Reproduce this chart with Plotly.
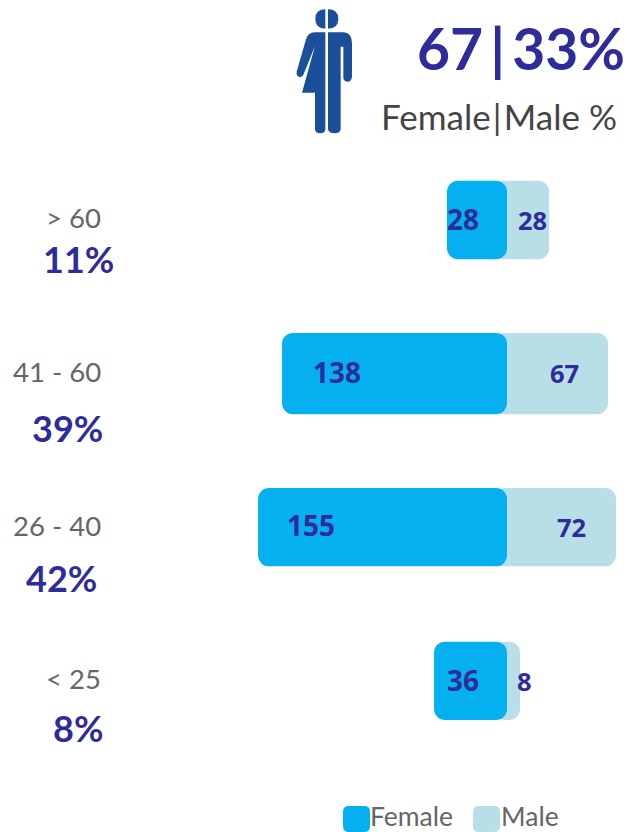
import plotly.graph_objects as go

# Data
categories = ["> 60", "41 - 60", "26 - 40", "< 25"]
share_labels = ["11%", "39%", "42%", "8%"]
female_labels = [28, 138, 155, 36]
male_labels = [28, 67, 72, 8]
# Drawn bar lengths (they do not scale strictly with the labels)
female_length = [37.5, 140.6, 155.6, 45.6]
male_length = [26.3, 63.1, 68.1, 8.1]
bar_thickness = [0.51, 0.53, 0.51, 0.51]
headline = "67\u2009|\u200933%"
subhead = "Female\u200a|\u200aMale %"
series_names = ["Female", "Male"]

W, H = 627, 832
SCALE = 1.6
ZERO = 507
Y_FIRST, Y_STEP = 220, 153.6
NAVY = "#2E2C9B"
GREY = "#666666"
C_F = "#05B0F0"
C_M = "#B8DEE8"
ICON = "#1B4F9C"
FONT = "Lato"
RADIUS = 11

yv = list(range(len(categories)))
UNDERLAP = 8

fig = go.Figure()
common = dict(y=yv, orientation="h", width=bar_thickness, showlegend=False, hoverinfo="skip",
              marker_line_width=0)
fig.add_bar(x=[m + UNDERLAP for m in male_length], base=[-UNDERLAP] * 4, marker_color=C_M, name=series_names[1], **common)
fig.add_bar(x=[-f for f in female_length], base=[0] * 4, marker_color=C_F, name=series_names[0], **common)


def px(x):
    return x / W


def py(y):
    return 1 - y / H


ann = []


def text(t, x, y, size, color, bold=False, anchor="center", font=FONT):
    ann.append(dict(text=f"<b>{t}</b>" if bold else t, x=px(x), y=py(y), xref="paper", yref="paper",
                    xanchor=anchor, yanchor="middle", showarrow=False,
                    font=dict(family=font, size=size, color=color)))


text(headline, 627, 48, 57, NAVY, True, "right")
text(subhead, 619, 116, 35, "#444444", False, "right")

cat_xy = [(73, 217), (57, 371), (57, 525), (73, 678)]
share_xy = [(78, 259), (67, 428), (61, 578), (78, 728)]
for c, (x, y) in zip(categories, cat_xy):
    text(c, x, y, 27.5, GREY)
for s, (x, y) in zip(share_labels, share_xy):
    text(s, x, y, 36, NAVY, True)

bar_font = "Open Sans"
f_xy = [(463, 219), (337, 372), (311, 525), (463, 680)]
m_xy = [(532, 220), (564, 373), (571, 527), (524, 681)]
for v, (x, y) in zip(female_labels, f_xy):
    text(v, x, y, 28, NAVY, True, font=bar_font)
for v, (x, y) in zip(male_labels, m_xy):
    text(v, x, y, 25.5, NAVY, True, font=bar_font)

text(series_names[0], 368, 816, 26.5, GREY, anchor="left")
text(series_names[1], 499, 816, 26.5, GREY, anchor="left")

shapes = []


def path(points_d, fill):
    shapes.append(dict(type="path", xref="paper", yref="paper", path=points_d, fillcolor=fill, line_width=0, layer="above"))


def zp(x, y):
    # icon outlines measured from a 3x crop at (280, 0)
    return f"{px(280 + x / 3):.5f},{py(y / 3):.5f}"


def P(cmds):
    out = []
    for c in cmds:
        if c[0] == "Z":
            out.append("Z")
        elif c[0] == "Q":
            out.append(f"Q{zp(c[1], c[2])} {zp(c[3], c[4])}")
        else:
            out.append(f"{c[0]}{zp(c[1], c[2])}")
    return " ".join(out)


path(P([("M", 136, 28), ("Q", 106, 28, 106, 57), ("Q", 106, 86, 136, 86), ("Z",)]), ICON)
path(P([("M", 144, 28), ("Q", 175, 28, 175, 57), ("Q", 175, 86, 144, 86), ("Z",)]), ICON)
path(P([("M", 136, 97), ("L", 104, 97), ("Q", 84, 97, 78, 118), ("L", 50, 215), ("Q", 48, 230, 60, 231),
        ("Q", 68, 231, 71, 222), ("L", 105, 138), ("L", 66, 278), ("L", 105, 278), ("L", 105, 388),
        ("Q", 106, 400, 120, 400), ("Q", 136, 400, 136, 388), ("Z",)]), ICON)
path(P([("M", 144, 97), ("L", 192, 97), ("Q", 216, 100, 216, 128), ("L", 216, 230), ("Q", 214, 245, 203, 245),
        ("Q", 190, 245, 190, 232), ("L", 190, 140), ("L", 182, 140), ("L", 182, 388), ("Q", 180, 400, 165, 400),
        ("Q", 146, 400, 144, 388), ("Z",)]), ICON)


def swatch(x0, y0, x1, y1, r, fill):
    a = lambda x, y: f"{px(x):.5f},{py(y):.5f}"
    path(f"M{a(x0 + r, y0)} L{a(x1 - r, y0)} Q{a(x1, y0)} {a(x1, y0 + r)} L{a(x1, y1 - r)} Q{a(x1, y1)} {a(x1 - r, y1)} "
         f"L{a(x0 + r, y1)} Q{a(x0, y1)} {a(x0, y1 - r)} L{a(x0, y0 + r)} Q{a(x0, y0)} {a(x0 + r, y0)} Z", fill)


swatch(343, 806, 370, 832, 6, C_F)
swatch(473, 806, 500, 832, 6, C_M)

fig.update_layout(
    width=W, height=H, autosize=False,
    margin=dict(l=0, r=0, t=0, b=0),
    paper_bgcolor="white", plot_bgcolor="white",
    barmode="overlay", barcornerradius=RADIUS, showlegend=False,
    xaxis=dict(range=[-ZERO / SCALE, (W - ZERO) / SCALE], visible=False, fixedrange=True),
    yaxis=dict(range=[(H - Y_FIRST) / Y_STEP, -Y_FIRST / Y_STEP], visible=False, fixedrange=True),
    annotations=ann, shapes=shapes,
)
fig.write_html("out.html", config={"displayModeBar": False, "responsive": False},
               post_script="document.body.style.margin='0';document.body.style.overflow='hidden';")
